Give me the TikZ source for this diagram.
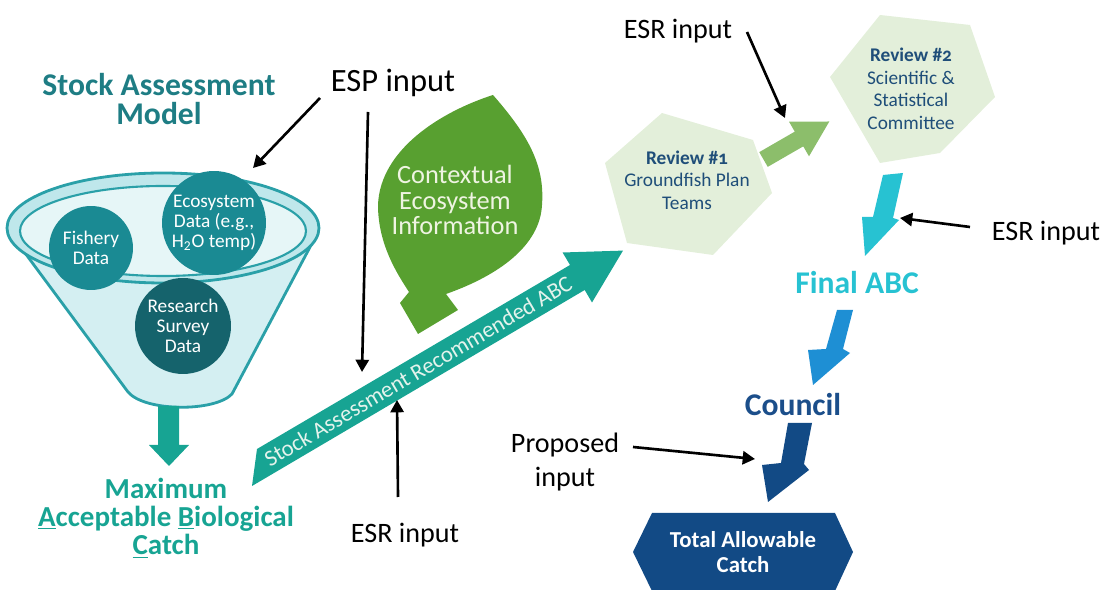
\documentclass[tikz,border=0pt]{standalone}
\usepackage{fontspec}
\setmainfont{Carlito}
\usetikzlibrary{arrows.meta}

\definecolor{modelteal}{HTML}{1E7D84}
\definecolor{abcteal}{HTML}{17A493}
\definecolor{bandtext}{HTML}{E4F3EC}
\definecolor{datateal}{HTML}{1A8A93}
\definecolor{surveyteal}{HTML}{15636C}
\definecolor{funnelline}{HTML}{2AA0A8}
\definecolor{funnelfill}{HTML}{D4EFF2}
\definecolor{rimfill}{HTML}{BFE7EB}
\definecolor{rimin}{HTML}{E6F6F7}
\definecolor{leafgreen}{HTML}{58A030}
\definecolor{leaftext}{HTML}{EFF4E2}
\definecolor{hexgreen}{HTML}{E3EFDA}
\definecolor{stepgreen}{HTML}{8CBE6B}
\definecolor{reviewblue}{HTML}{1F4E79}
\definecolor{finalcyan}{HTML}{27C2D2}
\definecolor{councilarrow}{HTML}{1E8FD4}
\definecolor{councilblue}{HTML}{1B4E8A}
\definecolor{tacblue}{HTML}{124A85}

\def\fsz#1#2{\fontsize{#1}{#2}\selectfont}
\def\oldnum#1{{\addfontfeatures{Numbers=OldStyle}#1}}

\begin{document}
\begin{tikzpicture}[x=0.02cm,y=-0.02cm,
  inarrow/.style={line width=1.5pt,-{Triangle[length=7pt,width=7.5pt]}},
  inlabel/.style={font=\fsz{16}{19},align=center},
  datacirc/.style={circle,inner sep=0pt,fill=datateal,text=white,align=center,font=\fsz{11}{11.5}},
  hextext/.style={text=reviewblue,align=center,font=\fsz{11}{12.8}},
  stage/.style={font=\bfseries\fsz{18}{16},align=center}]
\useasboundingbox (0,0) rectangle (1102,590);

% funnel and rim
\draw[funnelline,line width=1.6pt,fill=funnelfill] (8,230) -- (128,392)
  .. controls (145,412) and (215,412) .. (232,394) -- (318,232);
\draw[funnelline,line width=1.6pt,fill=rimfill] (163,228) ellipse [x radius=156,y radius=55];
\draw[funnelline,line width=1.2pt,fill=rimin] (163,231) ellipse [x radius=143,y radius=45];

\node[datacirc,minimum size=1.68cm] (fishery) at (91,248) {Fishery\\Data};
\node[datacirc,minimum size=2.08cm] (ecodata) at (214,223) {Ecosystem\\Data (e.g.,\\H\textsubscript{2}O temp)};
\node[datacirc,minimum size=1.92cm,fill=surveyteal] (survey) at (183,326) {Research\\Survey\\Data};

\node[stage,text=modelteal] (model) at (159,99) {Stock Assessment\\Model};

\fill[abcteal] (158,406) -- (179,406) -- (179,445) -- (189,445) -- (169,466) -- (149,445) -- (158,445) -- cycle;
\node[stage,text=abcteal,font=\bfseries\fsz{16.5}{16}] (mabc) at (166,518)
  {Maximum\\\underline{A}cceptable \underline{B}iological\\\underline{C}atch};

% review hexagons
\fill[hexgreen] (662,113) -- (753,140) -- (772,193) -- (713,255) -- (627,243) -- (605,163) -- cycle;
\fill[hexgreen] (830,77) -- (880,15) -- (970,25) -- (995,97) -- (940,153) -- (880,163) -- cycle;
\node[hextext] (review1) at (687,180) {\textbf{Review \#\oldnum{1}}\\Groundfish Plan\\Teams};
\node[hextext] (review2) at (911,89) {\textbf{Review \#\oldnum{2}}\\Scientific \&\\Statistical\\Committee};

% recommended ABC band
\fill[abcteal] (252,486) -- (257,449) -- (570,265) -- (562.6,252.5) -- (623,250.6) -- (592,302.5) -- (584.7,290) -- cycle;
\node[rotate=30.5,text=bandtext,font=\fsz{13}{13}] (sarabc) at (418,371) {Stock Assessment Recommended ABC};

% leaf
\fill[leafgreen] (493,95) .. controls (528,135) and (545,165) .. (542,205)
  .. controls (540,245) and (500,275) .. (446,294) -- (458,310) -- (418,334) -- (400,303) -- (409,292)
  .. controls (398,275) and (378,245) .. (378,205) .. controls (380,150) and (440,112) .. cycle;
\node[text=leaftext,align=center,font=\fsz{15}{14.7}] (context) at (455,200) {Contextual\\Ecosystem\\Information};

\begin{scope}[shift={(763.5,159.5)},rotate=30]
  \fill[stepgreen] (0,-8.5) -- (41,-8.5) -- (41,-20) -- (76,0) -- (41,20) -- (41,8.5) -- (0,8.5) -- cycle;
\end{scope}

\fill[finalcyan] (883,175) -- (903,173) -- (893,218) -- (899,220) -- (865,256) -- (862,217) -- (873,217) -- cycle;
\node[stage,text=finalcyan] (final) at (857,283) {Final ABC};
\fill[councilarrow] (837,310) -- (853,310) -- (843,349) -- (850,353) -- (813,385) -- (808,350) -- (826,349) -- cycle;
\node[stage,text=councilblue] (council) at (793,405) {Council};
\fill[tacblue] (788,423) -- (812,423) -- (804,464) -- (809,470) -- (768,502) -- (762,465) -- (781,463) -- cycle;

\fill[tacblue] (633,552) -- (652,513) -- (835,513) -- (853,552) -- (835,591) -- (652,591) -- cycle;
\node[text=white,align=center,font=\bfseries\fsz{13}{14}] (tac) at (743,552) {Total Allowable\\Catch};

% inputs
\node[inlabel,font=\fsz{18.5}{19}] (esp) at (393,83) {ESP input};
\node[inlabel] (esrlow) at (405,535) {ESR input};
\node[inlabel] (esrtop) at (678,31) {ESR input};
\node[inlabel] (esrright) at (1046,233) {ESR input};
\node[inlabel] (proposed) at (565,462) {Proposed\\input};

\coordinate (espa) at (320,98);   \coordinate (ecoin) at (253,168);
\coordinate (espb) at (368,112);  \coordinate (bandtop) at (362,372);
\coordinate (esrlowa) at (398,497); \coordinate (bandbot) at (397,400);
\coordinate (esrtopa) at (747,32); \coordinate (stepin) at (785,118);
\coordinate (esrrighta) at (970,227); \coordinate (finalin) at (900,218);
\coordinate (propa) at (633,447); \coordinate (tacin) at (755,459);
\foreach \s/\e in {espa/ecoin,espb/bandtop,esrlowa/bandbot,esrtopa/stepin,esrrighta/finalin,propa/tacin}
  \draw[inarrow] (\s) -- (\e);
\end{tikzpicture}
\end{document}
